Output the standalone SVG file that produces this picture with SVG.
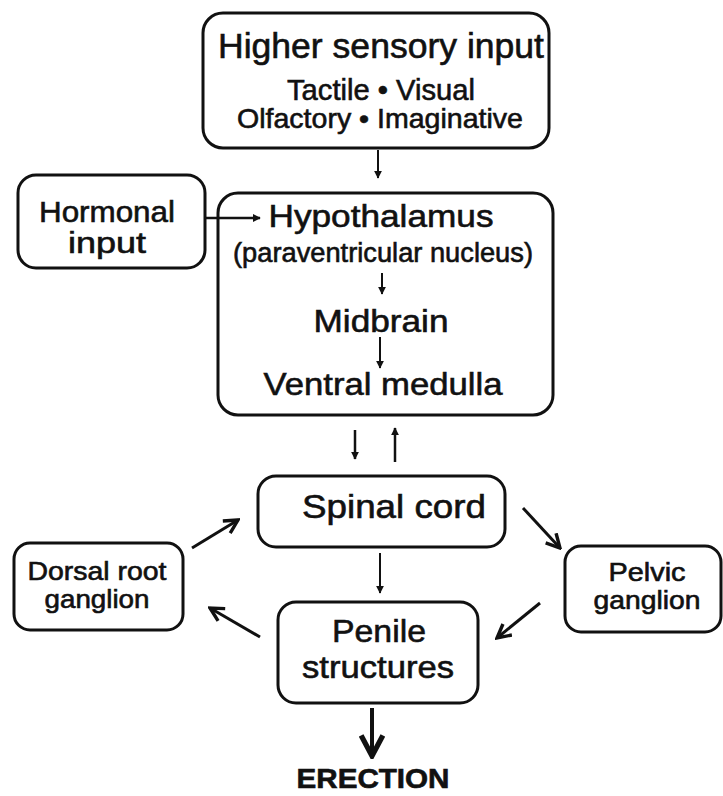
<svg xmlns="http://www.w3.org/2000/svg" width="723" height="796" viewBox="0 0 723 796">
<style>
.box{fill:#fff;stroke:#111;stroke-width:3}
.t{font-family:"Liberation Sans",Arial,sans-serif;fill:#111;stroke:#111;stroke-width:0.6;text-anchor:middle}
.c{stroke:#111;fill:none;stroke-linecap:butt}
</style>
<defs>
<marker id="sm" viewBox="0 0 10 10" refX="9" refY="5" markerWidth="8" markerHeight="8" markerUnits="userSpaceOnUse" orient="auto">
<path d="M0,0 L10,5 L0,10 z" fill="#111"/>
</marker>
<marker id="v" viewBox="0 0 12 12" refX="10.5" refY="6" markerWidth="17" markerHeight="17" markerUnits="userSpaceOnUse" orient="auto">
<path d="M1,1 L10.5,6 L1,11" fill="none" stroke="#111" stroke-width="2.4"/>
</marker>
<marker id="big" viewBox="0 0 12 12" refX="10.5" refY="6" markerWidth="26" markerHeight="26" markerUnits="userSpaceOnUse" orient="auto">
<path d="M1,1 L10.5,6 L1,11" fill="none" stroke="#111" stroke-width="2.4"/>
</marker>
</defs>
<rect width="723" height="796" fill="#fff"/>

<g id="higher-sensory-input">
<rect class="box" x="203" y="13" width="346" height="135" rx="20"/>
<text class="t" x="381" y="58" font-size="35" textLength="326" lengthAdjust="spacingAndGlyphs">Higher sensory input</text>
<text class="t" x="381" y="100" font-size="30" textLength="188" lengthAdjust="spacingAndGlyphs">Tactile • Visual</text>
<text class="t" x="380" y="128" font-size="28" textLength="286" lengthAdjust="spacingAndGlyphs">Olfactory • Imaginative</text>
</g>

<g id="hormonal-input">
<rect class="box" x="18" y="175" width="187" height="93" rx="18"/>
<text class="t" x="107" y="222" font-size="30" textLength="136" lengthAdjust="spacingAndGlyphs">Hormonal</text>
<text class="t" x="107" y="253" font-size="30" textLength="78" lengthAdjust="spacingAndGlyphs">input</text>
</g>

<g id="brain">
<rect class="box" x="218" y="193" width="335" height="222" rx="20"/>
<text class="t" x="381" y="227" font-size="32" textLength="225" lengthAdjust="spacingAndGlyphs">Hypothalamus</text>
<text class="t" x="383" y="262" font-size="27" textLength="300" lengthAdjust="spacingAndGlyphs">(paraventricular nucleus)</text>
<text class="t" x="381" y="332" font-size="32" textLength="135" lengthAdjust="spacingAndGlyphs">Midbrain</text>
<text class="t" x="383" y="395" font-size="32" textLength="239" lengthAdjust="spacingAndGlyphs">Ventral medulla</text>
</g>

<g id="spinal-cord">
<rect class="box" x="258" y="476" width="247" height="71" rx="18"/>
<text class="t" x="394" y="518" font-size="33" textLength="184" lengthAdjust="spacingAndGlyphs">Spinal cord</text>
</g>

<g id="dorsal-root-ganglion">
<rect class="box" x="14" y="543" width="169" height="87" rx="16"/>
<text class="t" x="97" y="580" font-size="25" textLength="139" lengthAdjust="spacingAndGlyphs">Dorsal root</text>
<text class="t" x="97" y="608" font-size="25" textLength="105" lengthAdjust="spacingAndGlyphs">ganglion</text>
</g>

<g id="pelvic-ganglion">
<rect class="box" x="565" y="546" width="156" height="86" rx="16"/>
<text class="t" x="647" y="581" font-size="25" textLength="77" lengthAdjust="spacingAndGlyphs">Pelvic</text>
<text class="t" x="647" y="609" font-size="25" textLength="107" lengthAdjust="spacingAndGlyphs">ganglion</text>
</g>

<g id="penile-structures">
<rect class="box" x="278" y="602" width="200" height="101" rx="18"/>
<text class="t" x="379" y="642" font-size="32" textLength="94" lengthAdjust="spacingAndGlyphs">Penile</text>
<text class="t" x="378" y="678" font-size="32" textLength="152" lengthAdjust="spacingAndGlyphs">structures</text>
</g>

<g id="erection">
<text class="t" x="373" y="788" font-size="27" font-weight="bold" textLength="153" lengthAdjust="spacingAndGlyphs">ERECTION</text>
</g>

<g id="connectors">
<line class="c" x1="378" y1="150" x2="378" y2="178" stroke-width="2" marker-end="url(#sm)"/>
<line class="c" x1="205" y1="218" x2="260" y2="218" stroke-width="2.5" marker-end="url(#sm)"/>
<line class="c" x1="382" y1="273" x2="382" y2="294" stroke-width="2" marker-end="url(#sm)"/>
<line class="c" x1="380" y1="337" x2="380" y2="368" stroke-width="2" marker-end="url(#sm)"/>
<line class="c" x1="355" y1="430" x2="355" y2="459" stroke-width="2.5" marker-end="url(#sm)"/>
<line class="c" x1="395" y1="462" x2="395" y2="428" stroke-width="2.5" marker-end="url(#sm)"/>
<line class="c" x1="380" y1="553" x2="380" y2="593" stroke-width="2" marker-end="url(#sm)"/>
<line class="c" x1="192" y1="548" x2="238" y2="520" stroke-width="3" marker-end="url(#v)"/>
<line class="c" x1="523" y1="508" x2="560" y2="548" stroke-width="3" marker-end="url(#v)"/>
<line class="c" x1="540" y1="603" x2="497" y2="638" stroke-width="3" marker-end="url(#v)"/>
<line class="c" x1="260" y1="637" x2="210" y2="608" stroke-width="3" marker-end="url(#v)"/>
<line class="c" x1="372" y1="708" x2="372" y2="756" stroke-width="4" marker-end="url(#big)"/>
</g>
</svg>
